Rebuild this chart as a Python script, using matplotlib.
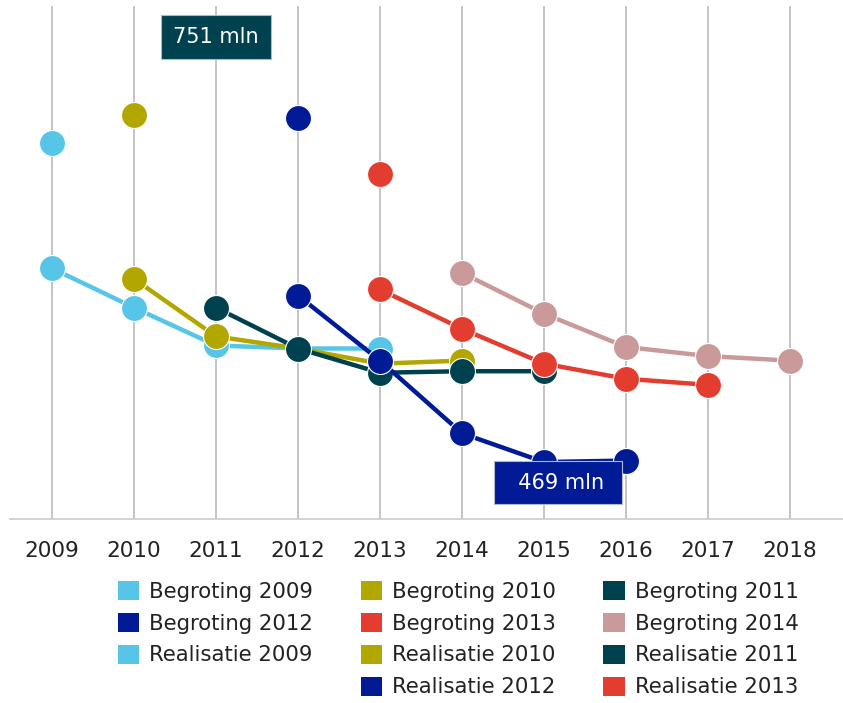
import matplotlib
matplotlib.use("Agg")
import matplotlib.pyplot as plt
from matplotlib.patches import Patch

plt.rcParams['font.family'] = ['DejaVu Sans']

years = [2009, 2010, 2011, 2012, 2013, 2014, 2015, 2016, 2017, 2018]

# Begroting series (multi-year projections, in mln)
begr_2009_x = [2009, 2010, 2011, 2012, 2013]
begr_2009_y = [597, 571, 546, 544, 544]
begr_2010_x = [2010, 2011, 2012, 2013, 2014]
begr_2010_y = [590, 552, 544, 534, 536]
begr_2011_x = [2011, 2012, 2013, 2014, 2015]
begr_2011_y = [571, 544, 528, 529, 529]
begr_2012_x = [2012, 2013, 2014, 2015, 2016]
begr_2012_y = [579, 536, 488, 469, 470]
begr_2013_x = [2013, 2014, 2015, 2016, 2017]
begr_2013_y = [583, 557, 534, 524, 520]
begr_2014_x = [2014, 2015, 2016, 2017, 2018]
begr_2014_y = [594, 567, 545, 539, 536]

# Realisatie series (single points, in mln)
real_2009_x = [2009]
real_2009_y = [680]
real_2010_x = [2010]
real_2010_y = [698]
real_2011_x = [2011]
real_2011_y = [751]
real_2012_x = [2012]
real_2012_y = [696]
real_2013_x = [2013]
real_2013_y = [659]

c_lightblue = '#56C5E8'
c_olive = '#B1A700'
c_teal = '#00414F'
c_navy = '#001B95'
c_red = '#E33D2F'
c_pink = '#CA9999'

begr = [
    ("Begroting 2009", begr_2009_x, begr_2009_y, c_lightblue),
    ("Begroting 2010", begr_2010_x, begr_2010_y, c_olive),
    ("Begroting 2011", begr_2011_x, begr_2011_y, c_teal),
    ("Begroting 2012", begr_2012_x, begr_2012_y, c_navy),
    ("Begroting 2013", begr_2013_x, begr_2013_y, c_red),
    ("Begroting 2014", begr_2014_x, begr_2014_y, c_pink),
]
real = [
    ("Realisatie 2009", real_2009_x, real_2009_y, c_lightblue),
    ("Realisatie 2010", real_2010_x, real_2010_y, c_olive),
    ("Realisatie 2011", real_2011_x, real_2011_y, c_teal),
    ("Realisatie 2012", real_2012_x, real_2012_y, c_navy),
    ("Realisatie 2013", real_2013_x, real_2013_y, c_red),
]

W, H = 843, 703
fig = plt.figure(figsize=(W / 100, H / 100), dpi=100)
ax = fig.add_axes([10 / W, 1 - 519 / H, 1 - 10 / W, (519 - 6) / H])

ms = 18.7
z = 3
for name, xs, ys, col in begr:
    ax.plot(xs, ys, color=col, lw=3.2, marker='o', ms=ms, mfc=col,
            mec='white', mew=0.8, zorder=z, solid_capstyle='round')
    z += 1
for name, xs, ys, col in real:
    ax.plot(xs, ys, color=col, lw=0, marker='o', ms=ms, mfc=col,
            mec='white', mew=0.8, zorder=z)
    z += 1

ax.set_xlim(2008.488, 2018.646)
ax.set_ylim(431.4, 770.2)
ax.set_xticks(years)
ax.set_xticklabels([str(y) for y in years], fontsize=15.5, color='#222222')
ax.tick_params(axis='x', length=0, pad=16)
ax.set_yticks([])
for s in ['top', 'right', 'left']:
    ax.spines[s].set_visible(False)
ax.spines['bottom'].set_color('#CCCCCC')
ax.spines['bottom'].set_linewidth(1.2)
for y in years:
    ax.axvline(y, color='#BFBFBF', lw=1.3, zorder=1)

# Data labels
ax.annotate("751 mln", xy=(real_2011_x[0], real_2011_y[0]), xytext=(0, -1.5),
            textcoords='offset points', ha='center', va='center',
            fontsize=15, color='white', zorder=50,
            bbox=dict(boxstyle='square,pad=0.58', fc=c_teal, ec='#B0B8BA', lw=0.8))
ax.annotate("  469 mln ", xy=(begr_2012_x[3], begr_2012_y[3]), xytext=(10, -15),
            textcoords='offset points', ha='center', va='center',
            fontsize=15, color='white', zorder=50,
            bbox=dict(boxstyle='square,pad=0.55', fc=c_navy, ec='#B0B8CC', lw=0.8))

# Legend (row-wise layout as in the original)
def P(col):
    return Patch(facecolor=col, edgecolor='none')
blank = Patch(facecolor='none', edgecolor='none')
handles = [P(begr[0][3]), P(begr[3][3]), P(real[0][3]), blank,
           P(begr[1][3]), P(begr[4][3]), P(real[1][3]), P(real[3][3]),
           P(begr[2][3]), P(begr[5][3]), P(real[2][3]), P(real[4][3])]
labels = [begr[0][0], begr[3][0], real[0][0], '',
          begr[1][0], begr[4][0], real[1][0], real[3][0],
          begr[2][0], begr[5][0], real[2][0], real[4][0]]
leg = fig.legend(handles, labels, ncol=3, loc='upper left',
                 bbox_to_anchor=(118 / W, 1 - 581 / H), frameon=False,
                 fontsize=15.3, borderpad=0, borderaxespad=0,
                 handlelength=1.0, handleheight=1.0, handletextpad=0.47,
                 columnspacing=2.24, labelspacing=0.52)
for t in leg.get_texts():
    t.set_color('#222222')

fig.savefig("out.png", dpi=100)
